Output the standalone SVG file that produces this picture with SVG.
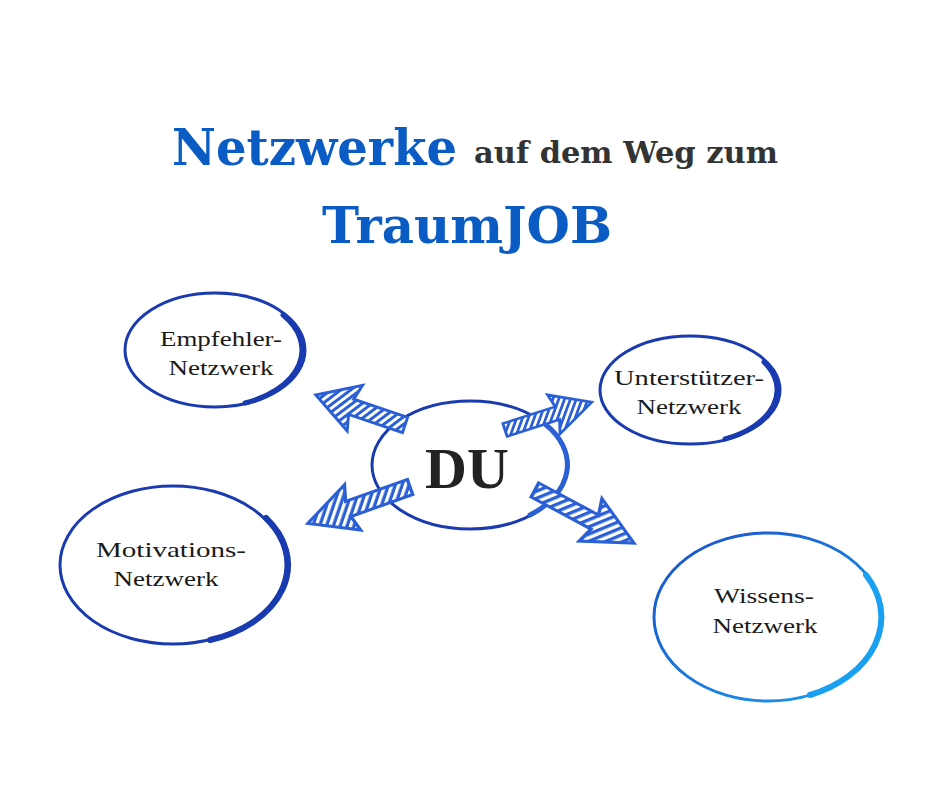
<svg xmlns="http://www.w3.org/2000/svg" width="940" height="788" viewBox="0 0 940 788">
<style>
.t{font-family:"Liberation Serif",serif;font-size:22px;fill:#1a1a1a;text-anchor:middle}
.ring{fill:none;stroke:#1a3bb0;stroke-width:3}
.arr{fill:url(#hatch);stroke:#2a5fd6;stroke-width:3;stroke-linejoin:miter}
</style>
<defs>
<pattern id="hatch" width="6" height="6" patternUnits="userSpaceOnUse" patternTransform="rotate(35)">
<rect width="6" height="6" fill="#ffffff"/><rect width="3" height="6" fill="#2a5fd6"/>
</pattern>
<linearGradient id="wg" x1="0" y1="0" x2="1" y2="1"><stop offset="0" stop-color="#1a50c8"/><stop offset="1" stop-color="#1aa0f0"/></linearGradient>
<polygon id="a" points="0,-8 58,-8 54,-24 96,0 54,24 58,8 0,8"/>
</defs>
<rect width="940" height="788" fill="#ffffff"/>
<g id="title" font-family="'DejaVu Serif',serif" font-weight="bold">
<text x="172" y="165" font-size="50" fill="#0a5cc4" textLength="285" lengthAdjust="spacingAndGlyphs">Netzwerke</text>
<text x="474" y="163" font-size="30" fill="#333333" textLength="304" lengthAdjust="spacingAndGlyphs">auf dem Weg zum</text>
<text x="322" y="243" font-size="50" fill="#0a5cc4" textLength="290" lengthAdjust="spacingAndGlyphs">TraumJOB</text>
</g>
<g id="du">
<ellipse cx="470" cy="465" rx="98" ry="64" class="ring"/>
<path d="M545,424 A98,64 0 0 1 530,515" fill="none" stroke="#2a5fd6" stroke-width="5" stroke-linecap="round"/>
<text x="467" y="488" font-family="'Liberation Serif',serif" font-weight="bold" font-size="58" fill="#222" text-anchor="middle">DU</text>
</g>
<g id="connectors">
<use href="#a" class="arr" transform="translate(405,425) rotate(198.6) scale(0.98,1)"/>
<use href="#a" class="arr" transform="translate(505,430) rotate(-17.8) scale(0.95,0.85)"/>
<use href="#a" class="arr" transform="translate(410,487) rotate(160.4) scale(1.13,1)"/>
<use href="#a" class="arr" transform="translate(535,490) rotate(28.2) scale(1.17,1)"/>
</g>
<g id="empfehler">
<ellipse cx="215" cy="350" rx="90" ry="57" class="ring"/>
<path d="M283,315 A90,57 0 0 1 245,403" fill="none" stroke="#1a3bb0" stroke-width="5" stroke-linecap="round"/>
<text x="221" y="346" class="t" textLength="122" lengthAdjust="spacingAndGlyphs">Empfehler-</text>
<text x="221" y="375" class="t" textLength="105" lengthAdjust="spacingAndGlyphs">Netzwerk</text>
</g>
<g id="unterstuetzer">
<ellipse cx="690" cy="390" rx="90" ry="54" class="ring"/>
<path d="M764,362 A90,54 0 0 1 725,439" fill="none" stroke="#1a3bb0" stroke-width="5" stroke-linecap="round"/>
<text x="689" y="385" class="t" textLength="150" lengthAdjust="spacingAndGlyphs">Unterstützer-</text>
<text x="689" y="414" class="t" textLength="105" lengthAdjust="spacingAndGlyphs">Netzwerk</text>
</g>
<g id="motivations">
<ellipse cx="173" cy="565" rx="113" ry="79" class="ring"/>
<path d="M266,518 A113,79 0 0 1 210,640" fill="none" stroke="#1a3bb0" stroke-width="6" stroke-linecap="round"/>
<text x="171" y="557" class="t" textLength="150" lengthAdjust="spacingAndGlyphs">Motivations-</text>
<text x="166" y="586" class="t" textLength="105" lengthAdjust="spacingAndGlyphs">Netzwerk</text>
</g>
<g id="wissens">
<ellipse cx="768" cy="617" rx="114" ry="84" stroke="url(#wg)" stroke-width="3" fill="none"/>
<path d="M866,575 A114,84 0 0 1 810,695" fill="none" stroke="#1aa0f0" stroke-width="6" stroke-linecap="round"/>
<text x="764" y="603" class="t" textLength="100" lengthAdjust="spacingAndGlyphs">Wissens-</text>
<text x="765" y="633" class="t" textLength="105" lengthAdjust="spacingAndGlyphs">Netzwerk</text>
</g>
</svg>
